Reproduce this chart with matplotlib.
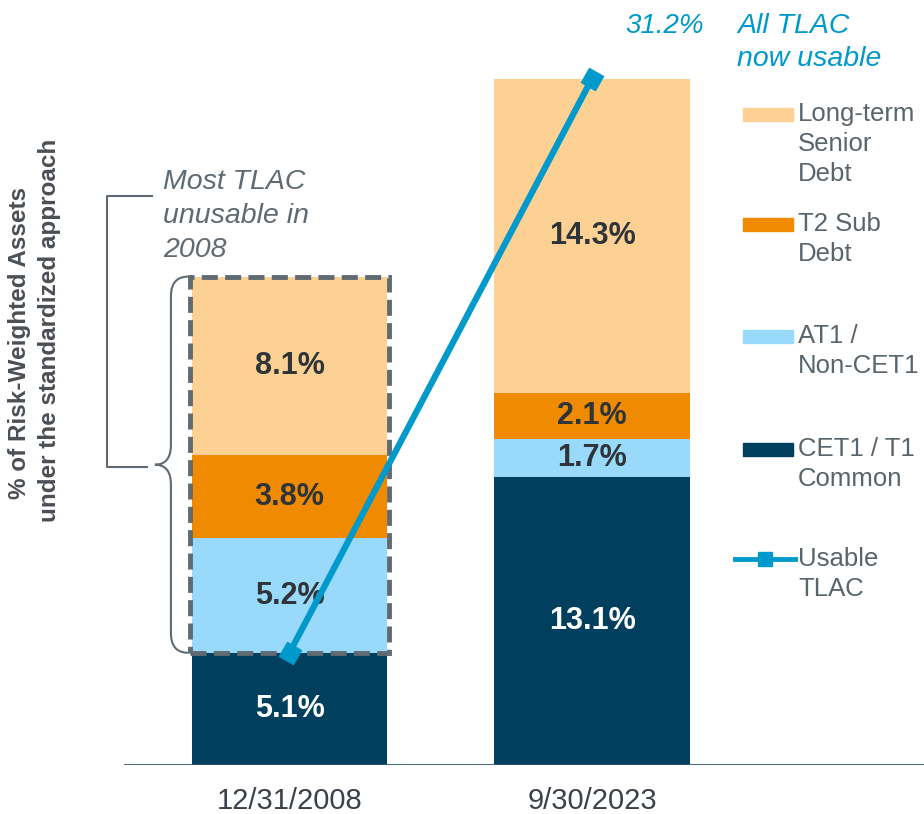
import numpy as np
import matplotlib.pyplot as plt
from matplotlib.patches import Rectangle, PathPatch
from matplotlib.path import Path
from matplotlib.markers import MarkerStyle
from matplotlib.transforms import Affine2D

plt.rcParams['font.family'] = ['Liberation Sans', 'DejaVu Sans']

# data (% of RWA)
dates = ["12/31/2008", "9/30/2023"]
cet1 = [5.1, 13.1]
at1 = [5.2, 1.7]
t2 = [3.8, 2.1]
senior = [8.1, 14.3]
usable = [5.1, 31.2]

names = ["Long-term\nSenior\nDebt", "T2 Sub\nDebt", "AT1 /\nNon-CET1",
         "CET1 / T1\nCommon", "Usable\nTLAC"]

NAVY = "#013F5E"
LBLUE = "#99D9FA"
ORANGE = "#F08A00"
PEACH = "#FDD193"
LINE = "#0099CC"
GRAY = "#5F6A72"
DARK = "#2F3439"

W, H = 924, 814
fig = plt.figure(figsize=(W / 100, H / 100), dpi=100)
ax = fig.add_axes([0, 49 / H, 1, 765 / H])
ax.set_xlim(-289.5 / 302.5, 1 + 332 / 302.5)
ax.set_ylim(0, 765 / 22.0)

# pixel coords (from top-left) -> figure
px = Affine2D().scale(1 / W, -1 / H).translate(0, 1) + fig.transFigure

x = np.arange(len(dates))
bottom = np.zeros(len(dates))
segments = [(cet1, NAVY, "white"), (at1, LBLUE, DARK),
            (t2, ORANGE, DARK), (senior, PEACH, DARK)]
for vals, color, tcol in segments:
    vals = np.array(vals)
    ax.bar(x, vals, bottom=bottom, width=0.645, color=color, zorder=2)
    for xi, b, v in zip(x, bottom, vals):
        ax.text(xi, b + v / 2, f"{v:.1f}%", ha="center", va="center",
                fontsize=22, fontweight="bold", color=tcol, zorder=3)
    bottom += vals

# dashed box round unusable part of 2008
top08 = bottom[0]
ax.add_patch(Rectangle((-0.33, cet1[0]), 0.66, top08 - cet1[0], fill=False,
                       ec=GRAY, lw=3.5, ls=(0, (3.3, 1.5)), zorder=4))

# curly brace
xr, xv, xt = -0.335, -0.392, -0.445
yt, yb = top08, cet1[0]
ym = (yt + yb) / 2
r = 0.9
verts = [(xr, yt), (xv, yt), (xv, yt - r), (xv, ym + r), (xv, ym), (xt, ym),
         (xv, ym), (xv, ym - r), (xv, yb + r), (xv, yb), (xr, yb)]
codes = [Path.MOVETO, Path.CURVE3, Path.CURVE3, Path.LINETO, Path.CURVE3,
         Path.CURVE3, Path.CURVE3, Path.CURVE3, Path.LINETO, Path.CURVE3,
         Path.CURVE3]
ax.add_patch(PathPatch(Path(verts, codes), fill=False, ec=GRAY, lw=1.5,
                       clip_on=False, zorder=3))

# square bracket + note
fig.add_artist(plt.Line2D([152, 107, 107, 147], [196, 196, 467, 467],
                          transform=px, color=GRAY, lw=1.5))
for i, line in enumerate(["Most TLAC", "unusable in", "2008"]):
    fig.text(163, 182 + i * 34, line, transform=px, fontsize=20.5,
             style="italic", color=GRAY, va="center")

# usable TLAC line
fig.canvas.draw()
p0, p1 = ax.transData.transform([(x[0], usable[0]), (x[1], usable[1])])
ang = np.degrees(np.arctan2(p1[1] - p0[1], p1[0] - p0[0]))
mk = MarkerStyle("s", transform=Affine2D().rotate_deg(ang))
ax.plot(x, usable, color=LINE, lw=4.5, marker=mk, ms=11.5, zorder=6,
        clip_on=False)

fig.text(665, 26, f"{usable[-1]:.1f}%", transform=px, fontsize=20,
         style="italic", color=LINE, ha="center", va="center")
fig.text(737, 26, "All TLAC", transform=px, fontsize=20.5, style="italic",
         color=LINE, va="center")
fig.text(737, 59, "now usable", transform=px, fontsize=20.5, style="italic",
         color=LINE, va="center")

# baseline and ticks
ax.axhline(0, xmin=125 / W, xmax=1, color="#2D5670", lw=2, zorder=5)
for s in ax.spines.values():
    s.set_visible(False)
ax.set_yticks([])
ax.set_xticks(x, dates)
ax.tick_params(axis="x", length=0, pad=16, labelsize=21, labelcolor="#3A4148")

# y label
fig.text(20, 343, "% of Risk-Weighted Assets", transform=px, rotation=90,
         fontsize=17.5, fontweight="bold", color="#4A4F55", ha="center",
         va="center")
fig.text(50, 330, "under the standardized approach", transform=px,
         rotation=90, fontsize=17.5, fontweight="bold", color="#4A4F55",
         ha="center", va="center")

# legend (drawn by hand, irregular spacing)
leg_colors = [PEACH, ORANGE, LBLUE, NAVY]
leg_y = [114, 224, 336, 449, 559]
for i, (name, yc) in enumerate(zip(names, leg_y)):
    if i < len(leg_colors):
        fig.add_artist(Rectangle((743, yc - 6.5), 50, 13, transform=px,
                                 color=leg_colors[i]))
    else:
        fig.add_artist(plt.Line2D([735, 795], [yc, yc], transform=px,
                                  color=LINE, lw=3.5))
        fig.add_artist(plt.Line2D([765], [yc], transform=px, color=LINE,
                                  marker="s", ms=10, lw=0))
    for j, line in enumerate(name.split("\n")):
        fig.text(798, yc + j * 30, line, transform=px, fontsize=18.5,
                 color="#5A646B", va="center")

fig.savefig("out.png", dpi=100)
